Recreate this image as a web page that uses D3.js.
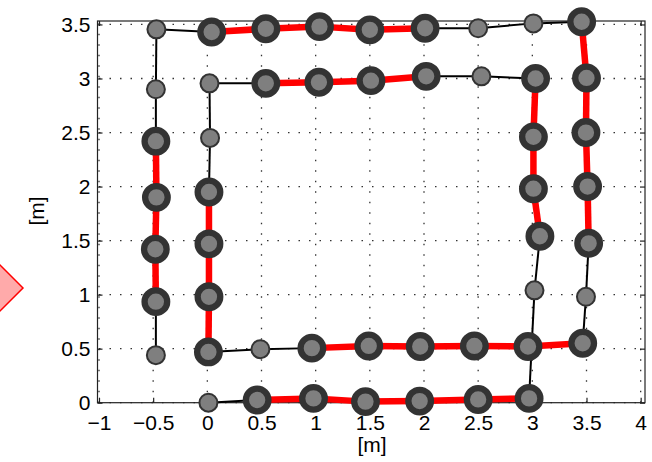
<!DOCTYPE html>
<html>
<head>
<meta charset="utf-8">
<script src="https://cdn.jsdelivr.net/npm/d3@7"></script>
<style>
  html, body { margin: 0; padding: 0; background: #fff; }
  svg { display: block; }
  text { font-family: "Liberation Sans", Arial, Helvetica, sans-serif; fill: #000; }
</style>
</head>
<body>
<svg id="chart" width="652" height="462"></svg>
<script>
// Measured robot path (metres), in travel order, spiralling outward.
const pathX = [0.01, 0.46, 0.98, 1.46, 1.96, 2.50, 2.97,
               3.02, 3.07, 3.01, 3.01, 3.03,
               2.53, 2.02, 1.51, 1.03, 0.54, 0.02,
               0.025, 0.015, 0.015, 0.015, 0.01,
               0.49, 0.965, 1.49, 1.965, 2.465, 2.96, 3.465,
               3.495, 3.52, 3.51, 3.495, 3.50, 3.455,
               3.01, 2.50, 2.01, 1.50, 1.035, 0.54, 0.04, -0.47,
               -0.475, -0.475, -0.47, -0.48, -0.475, -0.475];
const pathY = [0.00, 0.025, 0.04, 0.01, 0.015, 0.03, 0.04,
               1.04, 1.54, 1.98, 2.46, 3.00,
               3.02, 3.02, 2.98, 2.965, 2.955, 2.955,
               2.45, 1.95, 1.47, 0.98, 0.47,
               0.495, 0.505, 0.525, 0.52, 0.525, 0.52, 0.55,
               0.98, 1.475, 2.00, 2.50, 3.005, 3.525,
               3.51, 3.465, 3.465, 3.45, 3.48, 3.46, 3.43, 3.455,
               2.90, 2.42, 1.90, 1.42, 0.935, 0.44];
// 1 = matched landmark (large marker), 0 = plain pose (small marker)
const matched = [0, 1, 1, 1, 1, 1, 1,
                 0, 1, 1, 1, 1,
                 0, 1, 1, 1, 1, 0,
                 0, 1, 1, 1, 1,
                 0, 1, 1, 1, 1, 1, 1,
                 0, 1, 1, 1, 1, 1,
                 0, 0, 1, 1, 1, 1, 1, 0,
                 0, 1, 1, 1, 1, 0];

const xTicks = [-1, -0.5, 0, 0.5, 1, 1.5, 2, 2.5, 3, 3.5, 4];
const yTicks = [0, 0.5, 1, 1.5, 2, 2.5, 3, 3.5];
const xDomain = [-1, 4.04];
const yDomain = [0, 3.532];
const xLabel = "[m]";
const yLabel = "[m]";

const pts = pathX.map((v, i) => ({ x: v, y: pathY[i], big: matched[i] === 1 }));

const svg = d3.select("#chart");
const plotL = 99, plotR = 645, plotT = 21, plotB = 402.7;
const x = d3.scaleLinear().domain(xDomain).range([plotL, plotR]);
const y = d3.scaleLinear().domain(yDomain).range([plotB, plotT]);
const fmt = d3.format("");

// Marker hint on the left edge
svg.append("polygon")
  .attr("points", "23,288 0,265 -23,288 0,311")
  .attr("fill", "#ffaaaa")
  .attr("stroke", "#ff0000")
  .attr("stroke-width", 1.5);

// Dotted grid
const grid = svg.append("g").attr("stroke", "#333").attr("stroke-width", 1.3)
  .attr("stroke-dasharray", "1.5,9");
grid.selectAll(".gx").data(xTicks).join("line")
  .attr("x1", d => x(d)).attr("x2", d => x(d))
  .attr("y1", plotB).attr("y2", plotT);
grid.selectAll(".gy").data(yTicks).join("line")
  .attr("x1", plotL).attr("x2", plotR)
  .attr("y1", d => y(d)).attr("y2", d => y(d));

// Box and inward ticks
const axisColor = "#222";
svg.append("rect")
  .attr("x", plotL - 1.5).attr("y", plotT)
  .attr("width", plotR - plotL + 1.5).attr("height", plotB - plotT)
  .attr("fill", "none").attr("stroke", axisColor).attr("stroke-width", 1.2);

svg.append("g").attr("transform", `translate(0,${plotB})`)
  .call(d3.axisBottom(x).tickValues(xTicks).tickFormat(fmt).tickSizeInner(-5).tickSizeOuter(0).tickPadding(12));
svg.append("g").attr("transform", `translate(${plotL - 1.5},0)`)
  .call(d3.axisLeft(y).tickValues(yTicks).tickFormat(fmt).tickSizeInner(-5).tickSizeOuter(0).tickPadding(7));
svg.append("g").attr("transform", `translate(0,${plotT})`)
  .call(d3.axisTop(x).tickValues(xTicks).tickSizeInner(-5).tickSizeOuter(0).tickFormat(""));
svg.append("g").attr("transform", `translate(${plotR},0)`)
  .call(d3.axisRight(y).tickValues(yTicks).tickSizeInner(-5).tickSizeOuter(0).tickFormat(""));
svg.selectAll(".domain").remove();
svg.selectAll(".tick line").attr("stroke", axisColor).attr("stroke-width", 1.2);
svg.selectAll(".tick text").style("font-size", "21px")
  .style("font-family", "'Liberation Sans', Arial, sans-serif").attr("fill", "#000");

// Axis titles
svg.append("text").attr("x", 372).attr("y", 452)
  .attr("text-anchor", "middle").style("font-size", "21px").text(xLabel);
svg.append("text").attr("transform", "translate(44,211) rotate(-90)")
  .attr("text-anchor", "middle").style("font-size", "21px").text(yLabel);

// Path segments: thick red between matched poses, thin black otherwise
const segs = d3.pairs(pts).map(([a, b]) => ({ a, b, red: a.big && b.big }));
svg.append("g").selectAll("line").data(segs.filter(s => !s.red)).join("line")
  .attr("x1", d => x(d.a.x)).attr("y1", d => y(d.a.y))
  .attr("x2", d => x(d.b.x)).attr("y2", d => y(d.b.y))
  .attr("stroke", "#000").attr("stroke-width", 2);
svg.append("g").selectAll("line").data(segs.filter(s => s.red)).join("line")
  .attr("x1", d => x(d.a.x)).attr("y1", d => y(d.a.y))
  .attr("x2", d => x(d.b.x)).attr("y2", d => y(d.b.y))
  .attr("stroke", "#ff0000").attr("stroke-width", 6.5);

// Pose markers
svg.append("g").selectAll("circle").data(pts).join("circle")
  .attr("cx", d => x(d.x)).attr("cy", d => y(d.y))
  .attr("r", d => d.big ? 11.3 : 9)
  .attr("fill", "#7f7f7f")
  .attr("stroke", "#333")
  .attr("stroke-width", d => d.big ? 6.3 : 2);
</script>
</body>
</html>
